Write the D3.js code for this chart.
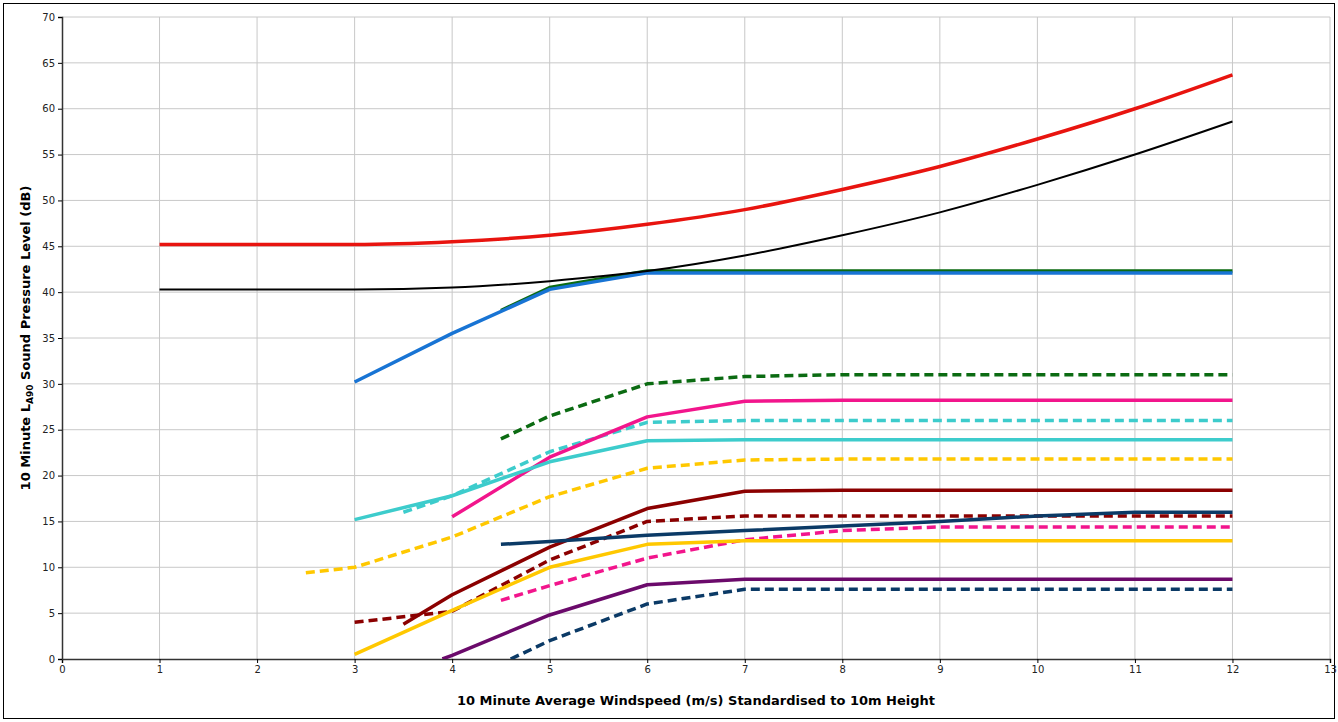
<!DOCTYPE html>
<html><head><meta charset="utf-8">
<script src="https://cdn.jsdelivr.net/npm/d3@7"></script>
<style>body{margin:0;background:#fff}text{font-family:"DejaVu Sans",sans-serif}</style>
</head><body><svg id="c" width="1338" height="722"></svg>
<script>
// values, [windspeed, dB]
const red      = [[1,45.2],[2,45.2],[3,45.2],[4,45.5],[5,46.2],[6,47.4],[7,49],[8,51.2],[9,53.7],[10,56.7],[11,60],[12,63.7]];
const black    = [[1,40.3],[2,40.3],[3,40.3],[4,40.5],[5,41.2],[6,42.3],[7,44],[8,46.2],[9,48.7],[10,51.7],[11,55],[12,58.6]];
const green    = [[4.5,38],[5,40.5],[6,42.3],[7,42.3],[8,42.3],[9,42.3],[10,42.3],[11,42.3],[12,42.3]];
const blue     = [[3,30.2],[4,35.5],[5,40.3],[6,42.1],[7,42.1],[8,42.1],[9,42.1],[10,42.1],[11,42.1],[12,42.1]];
const greenD   = [[4.5,24],[5,26.5],[6,30],[7,30.8],[8,31],[9,31],[10,31],[11,31],[12,31]];
const pink     = [[4,15.5],[5,22],[6,26.4],[7,28.1],[8,28.2],[9,28.2],[10,28.2],[11,28.2],[12,28.2]];
const cyanD    = [[3.5,16],[4,17.8],[5,22.6],[6,25.8],[7,26],[8,26],[9,26],[10,26],[11,26],[12,26]];
const cyan     = [[3,15.2],[4,17.8],[5,21.5],[6,23.8],[7,23.9],[8,23.9],[9,23.9],[10,23.9],[11,23.9],[12,23.9]];
const yellowD  = [[2.5,9.4],[3,10],[4,13.3],[5,17.7],[6,20.8],[7,21.7],[8,21.8],[9,21.8],[10,21.8],[11,21.8],[12,21.8]];
const maroon   = [[3.5,3.8],[4,7],[5,12.2],[6,16.4],[7,18.3],[8,18.4],[9,18.4],[10,18.4],[11,18.4],[12,18.4]];
const maroonD  = [[3,4],[4,5.2],[5,10.8],[6,15],[7,15.6],[8,15.6],[9,15.6],[10,15.6],[11,15.6],[12,15.6]];
const navy     = [[4.5,12.5],[5,12.8],[6,13.5],[7,14],[8,14.5],[9,15],[10,15.6],[11,16],[12,16]];
const pinkD    = [[4.5,6.4],[5,8],[6,11],[7,13],[8,14],[9,14.4],[10,14.4],[11,14.4],[12,14.4]];
const yellow   = [[3,0.5],[4,5.3],[5,10],[6,12.5],[7,12.9],[8,12.9],[9,12.9],[10,12.9],[11,12.9],[12,12.9]];
const purple   = [[3.9,0],[4,0.4],[5,4.8],[6,8.1],[7,8.7],[8,8.7],[9,8.7],[10,8.7],[11,8.7],[12,8.7]];
const navyD    = [[4.6,0],[5,2],[6,6],[7,7.6],[8,7.6],[9,7.6],[10,7.6],[11,7.6],[12,7.6]];

const series = [
  {d:greenD,c:"#0b6b12",dash:true},{d:cyanD,c:"#3dcccc",dash:true},{d:yellowD,c:"#ffc800",dash:true},
  {d:maroonD,c:"#8b0000",dash:true},{d:pinkD,c:"#f2158c",dash:true},{d:navyD,c:"#0b3a66",dash:true},
  {d:pink,c:"#f2158c"},{d:cyan,c:"#3dcccc"},{d:maroon,c:"#8b0000"},{d:navy,c:"#0b3a66"},
  {d:yellow,c:"#ffc800"},{d:purple,c:"#6b0a6b"},{d:green,c:"#0b6b12"},{d:blue,c:"#1874d4"},
  {d:black,c:"#000",w:2,smooth:true},{d:red,c:"#e8140f",smooth:true}
];

const svg = d3.select("#c");
svg.append("rect").attr("x",3.5).attr("y",3.5).attr("width",1331).attr("height",715)
  .attr("fill","none").attr("stroke","#000");
const m = {l:62, t:17, r:1330, b:659};
const x = d3.scaleLinear().domain([0,13]).range([m.l,m.r]);
const y = d3.scaleLinear().domain([0,70]).range([m.b,m.t]);

const g = svg.append("g");
g.append("g").selectAll("line").data(d3.range(1,14)).join("line")
  .attr("x1",x).attr("x2",x).attr("y1",m.t).attr("y2",m.b).attr("stroke","#c8c8c8");
g.append("g").selectAll("line").data(d3.range(5,75,5)).join("line")
  .attr("x1",m.l).attr("x2",m.r).attr("y1",y).attr("y2",y).attr("stroke","#c8c8c8");

const ax = g.append("g").attr("transform",`translate(0,${m.b})`).call(d3.axisBottom(x).ticks(13).tickSize(4));
const ay = g.append("g").attr("transform",`translate(${m.l},0)`).call(d3.axisLeft(y).ticks(14).tickSize(4));
[ax,ay].forEach(a=>{a.selectAll("text").attr("font-size",10).attr("font-family","DejaVu Sans").attr("fill","#222");
  a.select(".domain").attr("stroke","#333").attr("stroke-width",1.5);});

const smooth = d3.line().x(d=>x(d[0])).y(d=>y(d[1])).curve(d3.curveMonotoneX);
const straight = d3.line().x(d=>x(d[0])).y(d=>y(d[1]));
svg.append("clipPath").attr("id","cp").append("rect")
  .attr("x",m.l).attr("y",m.t).attr("width",m.r-m.l).attr("height",m.b-m.t);
g.append("g").attr("clip-path","url(#cp)").selectAll("path").data(series).join("path")
  .attr("d",s=>(s.smooth?smooth:straight)(s.d)).attr("fill","none").attr("stroke",s=>s.c)
  .attr("stroke-linejoin","round")
  .attr("stroke-width",s=>s.w||3.5).attr("stroke-dasharray",s=>s.dash?"9,5":null);

svg.append("text").attr("x",(m.l+m.r)/2).attr("y",705).attr("text-anchor","middle")
  .attr("font-size",13).attr("font-weight","bold").text("10 Minute Average Windspeed (m/s) Standardised to 10m Height");
const yl = svg.append("text").attr("transform",`translate(30,${(m.t+m.b)/2}) rotate(-90)`)
  .attr("text-anchor","middle").attr("font-size",13).attr("font-weight","bold");
yl.append("tspan").text("10 Minute L");
yl.append("tspan").attr("font-size",9).attr("dy",3).text("A90");
yl.append("tspan").attr("dy",-3).text(" Sound Pressure Level (dB)");
</script></body></html>
